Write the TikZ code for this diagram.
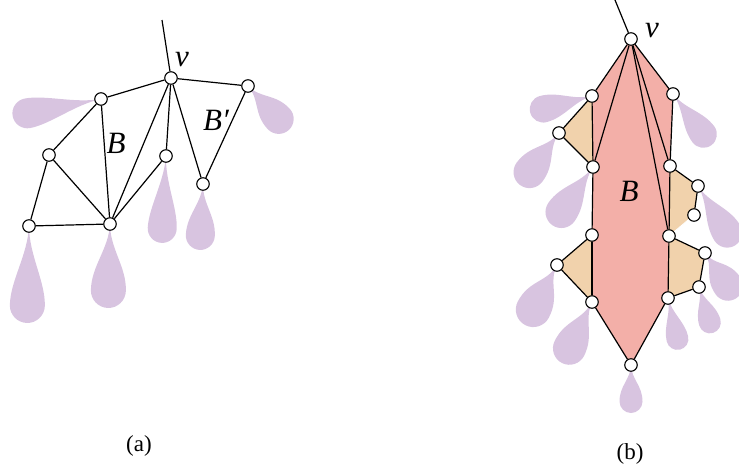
\documentclass[tikz,border=0pt]{standalone}
\usepackage{fontspec}
\setmainfont{Liberation Serif}
\definecolor{petalc}{RGB}{216,196,224}
\definecolor{redc}{RGB}{243,175,168}
\definecolor{orangec}{RGB}{241,210,172}
\newcommand\mypetal[4]{\begin{scope}[shift={(#1)},rotate=#2]
\pgfmathsetmacro\pL{#3}\pgfmathsetmacro\pr{#4/2}
\fill[petalc] (0,0) .. controls ({0.3*\pL},{0.04*\pr}) and ({\pL-2.4*\pr},{\pr}) .. ({\pL-\pr},{\pr}) .. controls ({\pL-0.45*\pr},{\pr}) and (\pL,{0.55*\pr}) .. (\pL,0) .. controls (\pL,{-0.55*\pr}) and ({\pL-0.45*\pr},{-\pr}) .. ({\pL-\pr},{-\pr}) .. controls ({\pL-2.4*\pr},{-\pr}) and ({0.3*\pL},{-0.04*\pr}) .. (0,0) -- cycle;
\end{scope}}
\begin{document}
\begin{tikzpicture}[x=1pt,y=-1pt,
  dot/.style={circle,draw=black,fill=white,minimum size=12.5pt,inner sep=0pt,line width=1.1pt},
  edge/.style={line width=1.2pt,black},
  biglabel/.style={font=\fontsize{31}{36}\selectfont\itshape,inner sep=0pt},
  caplabel/.style={font=\fontsize{23}{27}\selectfont,inner sep=0pt}]
\useasboundingbox (0,0) rectangle (739,472);
\begin{scope}
\clip (0,0) rectangle (739,472);
% ---------- panel (a) positions
\coordinate (av) at (171,78);
\coordinate (a1) at (101,99);
\coordinate (a2) at (49,155);
\coordinate (a3) at (29,226);
\coordinate (a4) at (110,224);
\coordinate (a5) at (166,156);
\coordinate (a6) at (248,86);
\coordinate (a7) at (203,184);
\coordinate (atop) at (162,20);
% ---------- panel (b) positions
\coordinate (bv) at (631,39);
\coordinate (btop) at (615,0);
\coordinate (L1) at (592,96);
\coordinate (L2) at (593,167);
\coordinate (L3) at (592,235);
\coordinate (L4) at (592,302);
\coordinate (F1) at (559,133);
\coordinate (F2) at (557,265);
\coordinate (bot) at (631,365);
\coordinate (R1) at (673,94);
\coordinate (R2) at (670,166);
\coordinate (R3) at (669,236);
\coordinate (R4) at (668,298);
\coordinate (G1) at (698,186);
\coordinate (G2) at (694,215);
\coordinate (G3) at (705,253);
\coordinate (G4) at (699,287);
% ---------- petals (a)
\mypetal{a1}{191}{90}{30}
\mypetal{a3}{268.8}{97}{35}
\mypetal{a4}{268.6}{84}{35}
\mypetal{a5}{267}{87}{29}
\mypetal{a7}{267}{66}{29}
\mypetal{a6}{313}{60}{30}
% ---------- petals (b)
\mypetal{L1}{195}{64}{27}
\mypetal{F1}{233}{65}{32}
\mypetal{L2}{235}{71}{32}
\mypetal{R1}{307}{64}{27}
\mypetal{G1}{302}{70}{30}
\mypetal{G3}{305}{55}{30}
\mypetal{G4}{287}{48}{22}
\mypetal{R4}{283}{53}{22}
\mypetal{F2}{242}{68}{35}
\mypetal{L4}{244}{68}{33}
\mypetal{bot}{270}{48}{23}
\end{scope}
% ---------- fills (b)
\fill[redc] (bv) -- (L1) -- (L2) -- (L3) -- (L4) -- (bot) -- (R4) -- (R3) -- (R2) -- (R1) -- cycle;
\fill[orangec] (L1) -- (F1) -- (L2) -- cycle;
\fill[orangec] (L3) -- (F2) -- (L4) -- cycle;
\fill[orangec] (R2) -- (G1) -- (G2) -- (R3) -- cycle;
\fill[orangec] (R3) -- (G3) -- (G4) -- (R4) -- cycle;
% ---------- nodes (a)
\node[dot] (na1) at (a1) {};
\node[dot] (na2) at (a2) {};
\node[dot] (na3) at (a3) {};
\node[dot] (na4) at (a4) {};
\node[dot] (na5) at (a5) {};
\node[dot] (na6) at (a6) {};
\node[dot] (na7) at (a7) {};
\node[dot] (nav) at (av) {};
% ---------- nodes (b)
\node[dot] (nbv) at (bv) {};
\node[dot] (nL1) at (L1) {};
\node[dot] (nL2) at (L2) {};
\node[dot] (nL3) at (L3) {};
\node[dot] (nL4) at (L4) {};
\node[dot] (nF1) at (F1) {};
\node[dot] (nF2) at (F2) {};
\node[dot] (nbot) at (bot) {};
\node[dot] (nR1) at (R1) {};
\node[dot] (nR2) at (R2) {};
\node[dot] (nR3) at (R3) {};
\node[dot] (nR4) at (R4) {};
\node[dot] (nG1) at (G1) {};
\node[dot] (nG2) at (G2) {};
\node[dot] (nG3) at (G3) {};
\node[dot] (nG4) at (G4) {};
% ---------- edges (a)
\draw[edge] (atop) -- (nav);
\foreach \t in {na1,na6,na4,na5,na7} \draw[edge] (nav) -- (\t);
\draw[edge] (na6) -- (na7);
\draw[edge] (na1) -- (na4);
\draw[edge] (na1) -- (na2);
\draw[edge] (na2) -- (na3);
\draw[edge] (na2) -- (na4);
\draw[edge] (na3) -- (na4);
\draw[edge] (na5) -- (na4);
% ---------- edges (b)
\draw[edge] (btop) -- (nbv);
\foreach \t in {nL1,nL2,nR1,nR2,nR3} \draw[edge] (nbv) -- (\t);
\draw[edge] (nL1) -- (nL2);
\draw[edge] (nL2) -- (nL3);
\draw[edge] (nL3) -- (nL4);
\draw[edge] (nR1) -- (nR2);
\draw[edge] (nR2) -- (nR3);
\draw[edge] (nR3) -- (nR4);
\draw[edge] (nL4) -- (nbot);
\draw[edge] (nbot) -- (nR4);
\draw[edge] (nL1) -- (nF1);
\draw[edge] (nF1) -- (nL2);
\draw[edge] (nL3) -- (nF2);
\draw[edge] (nF2) -- (nL4);
\draw[edge] (nR2) -- (nG1);
\draw[edge] (nG1) -- (nG2);
\draw[white,line width=0.8pt] (nG2) -- (nR3);
\draw[edge] (nR3) -- (nG3);
\draw[edge] (nG3) -- (nG4);
\draw[edge] (nG4) -- (nR4);
% ---------- labels
\node[biglabel] (lva) at (182,60) {v};
\node[biglabel] (lBa) at (116,143) {B};
\node[biglabel] (lBpa) at (216,120) {B′};
\node[biglabel] (lvb) at (652,31) {v};
\node[biglabel] (lBb) at (629,191) {B};
\node[caplabel] (capa) at (139,446) {(a)};
\node[caplabel] (capb) at (630,454) {(b)};
\end{tikzpicture}
\end{document}
